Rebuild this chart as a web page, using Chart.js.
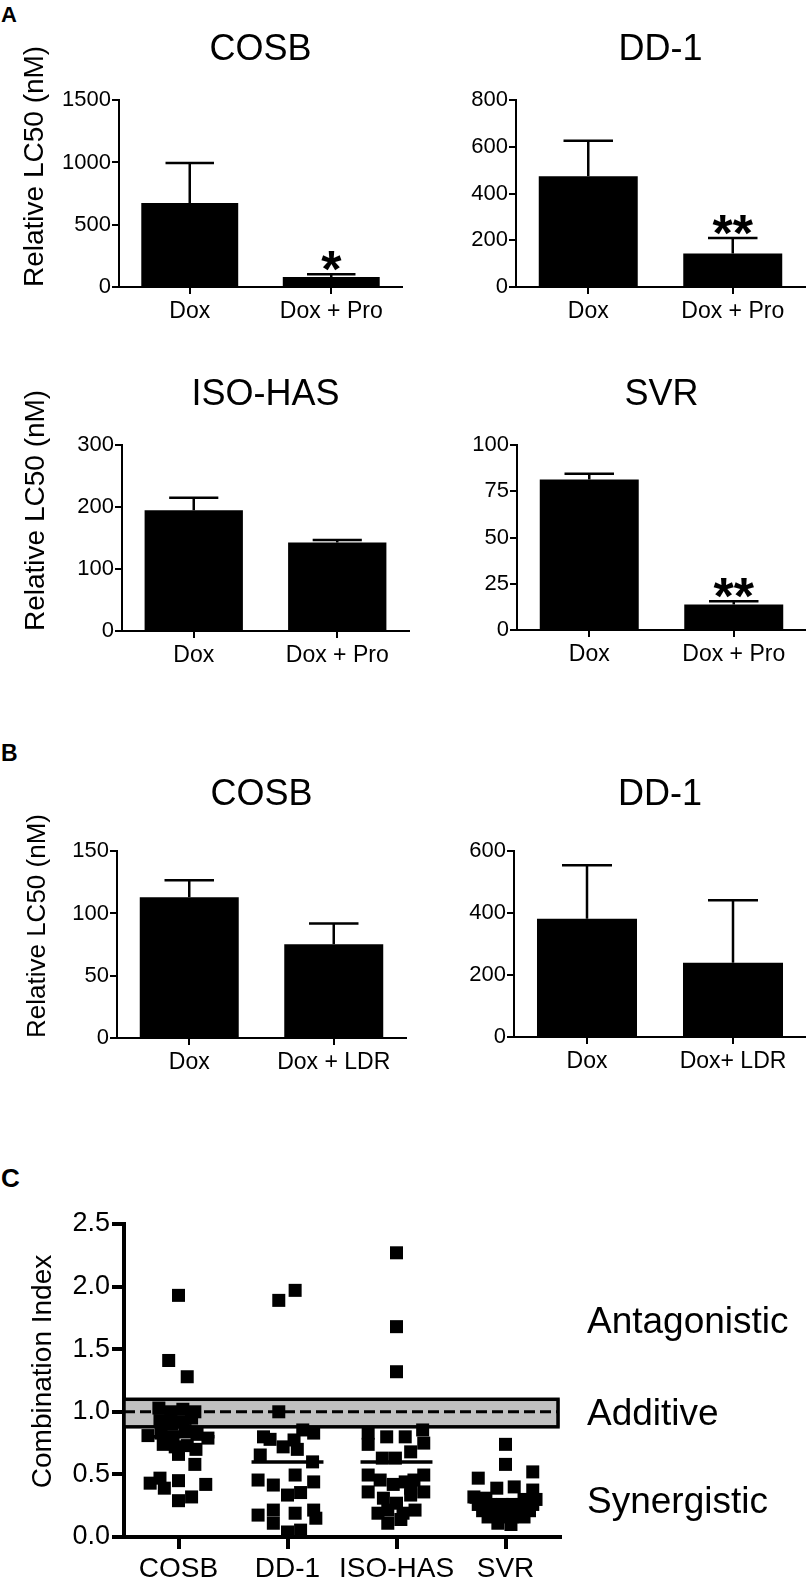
<!DOCTYPE html>
<html>
<head>
<meta charset="utf-8">
<script src="https://cdn.jsdelivr.net/npm/chart.js@4.4.1/dist/chart.umd.min.js"></script>
<style>
html,body{margin:0;padding:0;background:#fff;}
#page{position:relative;width:806px;height:1578px;overflow:hidden;font-family:'Liberation Sans',Arial,sans-serif;background:#fff;}
.box{position:absolute;}
.lbl{position:absolute;font-weight:bold;color:#000;line-height:1;}
</style>
</head>
<body>
<div id="page">
  <div class="lbl" style="left:1px;top:4px;font-size:22px">A</div>
  <div class="lbl" style="left:1px;top:742px;font-size:23px">B</div>
  <div class="lbl" style="left:1px;top:1165px;font-size:26px">C</div>

  <div class="box" style="left:0px;top:0px;width:403px;height:330px"><canvas id="a1"></canvas></div>
  <div class="box" style="left:403px;top:0px;width:403px;height:330px"><canvas id="a2"></canvas></div>
  <div class="box" style="left:0px;top:340px;width:410px;height:335px"><canvas id="a3"></canvas></div>
  <div class="box" style="left:403px;top:340px;width:403px;height:335px"><canvas id="a4"></canvas></div>
  <div class="box" style="left:0px;top:740px;width:410px;height:340px"><canvas id="b1"></canvas></div>
  <div class="box" style="left:403px;top:740px;width:403px;height:340px"><canvas id="b2"></canvas></div>
  <div class="box" style="left:0px;top:1140px;width:806px;height:438px"><canvas id="c1"></canvas></div>
</div>

<script>
// ---------------- DATA ----------------
// Panel A: relative LC50 (nM), mean and +SEM
const groupsPro = ['Dox', 'Dox + Pro'];
const cosbProMean = [675, 80];
const cosbProSem  = [321, 22];
const cosbProSig  = ['', '*'];
const dd1ProMean  = [474, 143];
const dd1ProSem   = [152, 67];
const dd1ProSig   = ['', '**'];
const isoProMean  = [195, 143];
const isoProSem   = [20, 4];
const isoProSig   = ['', ''];
const svrProMean  = [81.5, 13.8];
const svrProSem   = [3.1, 1.8];
const svrProSig   = ['', '**'];

// Panel B
const groupsLdrCosb = ['Dox', 'Dox + LDR'];
const groupsLdrDd1  = ['Dox', 'Dox+ LDR'];
const cosbLdrMean = [113, 75.3];
const cosbLdrSem  = [13.7, 16.6];
const dd1LdrMean  = [382, 240];
const dd1LdrSem   = [173, 202];

// y-axis tick ranges [max, step]
const cosbProAxis = [1500, 500];
const dd1ProAxis  = [800, 200];
const isoProAxis  = [300, 100];
const svrProAxis  = [100, 25];
const cosbLdrAxis = [150, 50];
const dd1LdrAxis  = [600, 200];

// Panel C: combination index per cell line (value, horizontal spread in category units)
const cellLines = ['COSB', 'DD-1', 'ISO-HAS', 'SVR'];
const cosbCI  = [1.93, 1.41, 1.28, 1.03, 1.00, 1.02, 1.00, 0.93, 0.90, 0.92, 0.95, 0.81, 0.83, 0.80, 0.85, 0.82, 0.79, 0.74, 0.72, 0.73, 0.70, 0.66, 0.58, 0.43, 0.47, 0.39, 0.45, 0.29, 0.32, 0.42];
const cosbJit = [0, -0.09, 0.08, -0.18, -0.07, 0.04, 0.15, -0.17, -0.06, 0.04, 0.12, -0.28, -0.16, -0.05, 0.06, 0.17, 0.27, -0.14, -0.03, 0.08, 0.16, 0, 0.15, -0.26, -0.17, -0.13, 0, 0, 0.12, 0.25];
const dd1CI   = [1.97, 1.89, 1.00, 0.855, 0.83, 0.80, 0.78, 0.775, 0.72, 0.70, 0.655, 0.60, 0.495, 0.455, 0.44, 0.415, 0.355, 0.335, 0.215, 0.215, 0.19, 0.175, 0.15, 0.11, 0.055, 0.04];
const dd1Jit  = [0.07, -0.08, -0.08, 0.14, 0.24, -0.22, -0.16, 0.06, -0.04, 0.09, -0.25, 0.23, 0.07, -0.27, 0.24, -0.13, 0.12, 0, -0.13, 0.24, 0.07, -0.27, 0.26, -0.13, 0.12, 0];
const isoCI   = [2.27, 1.68, 1.32, 0.855, 0.83, 0.80, 0.80, 0.75, 0.74, 0.68, 0.63, 0.63, 0.495, 0.495, 0.455, 0.455, 0.44, 0.42, 0.39, 0.36, 0.36, 0.335, 0.31, 0.27, 0.215, 0.215, 0.19, 0.19, 0.14, 0.11];
const isoJit  = [0, 0, 0, 0.24, -0.26, -0.09, 0.08, 0.25, -0.26, 0.13, -0.13, -0.01, -0.26, 0.25, -0.15, 0.16, 0.08, -0.03, 0.13, -0.26, 0.25, 0.13, -0.12, 0, -0.08, 0.17, -0.17, 0.06, 0.04, -0.08];
const svrCI   = [0.74, 0.58, 0.52, 0.47, 0.40, 0.39, 0.375, 0.32, 0.31, 0.30, 0.30, 0.26, 0.26, 0.26, 0.26, 0.26, 0.26, 0.21, 0.21, 0.21, 0.21, 0.21, 0.16, 0.16, 0.16, 0.16, 0.11, 0.10];
const svrJit  = [0, 0, 0.25, -0.25, 0.08, -0.08, 0.25, -0.29, -0.18, 0.17, 0.28, -0.25, -0.14, -0.03, 0.06, 0.15, 0.25, -0.21, -0.10, 0.01, 0.12, 0.22, -0.16, -0.05, 0.06, 0.17, -0.07, 0.05];
const meanCI  = [0.80, 0.60, 0.60, 0.28];
const additiveBand = [0.88, 1.10];
const additiveLine = 1.0;
const ciAxis = [2.5, 0.5];
const zoneLabels = ['Antagonistic', 'Additive', 'Synergistic'];
const zoneLabelCI = [1.71, 0.98, 0.275];

// ---------------- RENDERING ----------------
const FONT = "'Liberation Sans', Arial, sans-serif";
Chart.defaults.font.family = FONT;
Chart.defaults.color = '#000';

const errorBarPlugin = {
  id: 'errBars',
  afterDatasetsDraw(chart, args, opts) {
    if (!opts.sem) return;
    const meta = chart.getDatasetMeta(0);
    const ys = chart.scales.y;
    const ctx = chart.ctx;
    ctx.save();
    ctx.strokeStyle = '#000';
    ctx.fillStyle = '#000';
    ctx.lineWidth = opts.lineWidth || 2.5;
    meta.data.forEach((bar, i) => {
      const v = chart.data.datasets[0].data[i];
      const top = ys.getPixelForValue(v + opts.sem[i]);
      const base = ys.getPixelForValue(v);
      const half = bar.width * 0.25;
      ctx.beginPath();
      ctx.moveTo(bar.x, base);
      ctx.lineTo(bar.x, top);
      ctx.moveTo(bar.x - half, top);
      ctx.lineTo(bar.x + half, top);
      ctx.stroke();
      if (opts.sig && opts.sig[i]) {
        ctx.font = 'bold ' + (opts.sigSize || 50) + 'px ' + FONT;
        ctx.textAlign = 'center';
        ctx.textBaseline = 'alphabetic';
        ctx.fillText(opts.sig[i], bar.x, top + (opts.sigOffset || 12));
      }
    });
    ctx.restore();
  }
};

const sideTitlePlugin = {
  id: 'sideTitle',
  afterDraw(chart, args, opts) {
    if (!opts.text) return;
    const ctx = chart.ctx;
    const ca = chart.chartArea;
    ctx.save();
    ctx.fillStyle = '#000';
    ctx.font = opts.size + 'px ' + FONT;
    ctx.textBaseline = 'middle';
    const anchorY = opts.align === 'start' ? ca.bottom : (ca.top + ca.bottom) / 2 + (opts.shift || 0);
    ctx.translate(opts.x, anchorY);
    ctx.rotate(-Math.PI / 2);
    ctx.textAlign = opts.align === 'start' ? 'left' : 'center';
    ctx.fillText(opts.text, 0, 0);
    ctx.restore();
  }
};

function barPanel(id, labels, mean, sem, sig, axis, title, g) {
  new Chart(document.getElementById(id), {
    type: 'bar',
    data: {
      labels: labels,
      datasets: [{
        data: mean,
        backgroundColor: '#000',
        borderWidth: 0,
        barPercentage: 0.685,
        categoryPercentage: 1
      }]
    },
    options: {
      responsive: true,
      maintainAspectRatio: false,
      animation: false,
      events: [],
      layout: { padding: { left: 0, right: g.padRight, top: 0, bottom: 0 } },
      plugins: {
        legend: { display: false },
        tooltip: { enabled: false },
        title: {
          display: true, text: title, fullSize: false, color: '#000',
          font: { family: FONT, size: 36, weight: 'normal', lineHeight: 1.2 },
          padding: { top: g.tTop, bottom: g.tBottom }
        },
        errBars: { sem: sem, sig: sig, lineWidth: 2.5, sigSize: 52, sigOffset: 13 },
        sideTitle: g.yTitle ? { text: 'Relative LC50 (nM)', size: g.yTitleSize, x: g.yTitleX, align: 'start' } : {}
      },
      scales: {
        x: {
          grid: { display: true, offset: false, drawOnChartArea: false, drawTicks: true, tickLength: 7, color: '#000', lineWidth: 2 },
          border: { display: true, color: '#000', width: 2 },
          ticks: { color: '#000', font: { family: FONT, size: 23 }, padding: 4, maxRotation: 0, autoSkip: false },
          afterFit(s) { s.height = g.xH; }
        },
        y: {
          min: 0, max: axis[0],
          grid: { display: true, drawOnChartArea: false, drawTicks: true, tickLength: 7, color: '#000', lineWidth: 2 },
          border: { display: true, color: '#000', width: 2 },
          ticks: { stepSize: axis[1], color: '#000', font: { family: FONT, size: 22 }, padding: 1,
            callback: (v) => String(v) },
          afterFit(s) { s.width = g.yW; }
        }
      }
    },
    plugins: [errorBarPlugin, sideTitlePlugin]
  });
}

barPanel('a1', groupsPro, cosbProMean, cosbProSem, cosbProSig, cosbProAxis, 'COSB',
  { padRight: 1, yW: 119, xH: 43, tTop: 28, tBottom: 29, yTitle: true, yTitleSize: 28, yTitleX: 35 });
barPanel('a2', groupsPro, dd1ProMean, dd1ProSem, dd1ProSig, dd1ProAxis, 'DD-1',
  { padRight: 1, yW: 113, xH: 43, tTop: 28, tBottom: 29, yTitle: false });
barPanel('a3', groupsPro, isoProMean, isoProSem, isoProSig, isoProAxis, 'ISO-HAS',
  { padRight: 1, yW: 122, xH: 44, tTop: 33, tBottom: 29, yTitle: true, yTitleSize: 28, yTitleX: 36 });
barPanel('a4', groupsPro, svrProMean, svrProSem, svrProSig, svrProAxis, 'SVR',
  { padRight: 0, yW: 114, xH: 45, tTop: 33, tBottom: 29, yTitle: false });
barPanel('b1', groupsLdrCosb, cosbLdrMean, cosbLdrSem, ['', ''], cosbLdrAxis, 'COSB',
  { padRight: 4, yW: 117, xH: 42, tTop: 33, tBottom: 35, yTitle: true, yTitleSize: 26, yTitleX: 38 });
barPanel('b2', groupsLdrDd1, dd1LdrMean, dd1LdrSem, ['', ''], dd1LdrAxis, 'DD-1',
  { padRight: 0, yW: 111, xH: 43, tTop: 33, tBottom: 35, yTitle: false });

// ---------- Panel C ----------
const bandPlugin = {
  id: 'ciBand',
  beforeDatasetsDraw(chart, args, opts) {
    const ys = chart.scales.y;
    const ca = chart.chartArea;
    const ctx = chart.ctx;
    const yTop = ys.getPixelForValue(opts.band[1]);
    const yBot = ys.getPixelForValue(opts.band[0]);
    const yMid = ys.getPixelForValue(opts.line);
    ctx.save();
    ctx.fillStyle = '#c0c0c0';
    ctx.fillRect(ca.left, yTop, ca.right - ca.left, yBot - yTop);
    ctx.strokeStyle = '#000';
    ctx.lineWidth = 3.5;
    ctx.strokeRect(ca.left, yTop, ca.right - ca.left - 2, yBot - yTop);
    ctx.lineWidth = 3;
    ctx.setLineDash([11, 5]);
    ctx.beginPath();
    ctx.moveTo(ca.left, yMid);
    ctx.lineTo(ca.right - 2, yMid);
    ctx.stroke();
    ctx.restore();
  },
  afterDraw(chart, args, opts) {
    const ys = chart.scales.y;
    const ca = chart.chartArea;
    const ctx = chart.ctx;
    ctx.save();
    ctx.fillStyle = '#000';
    ctx.font = '37px ' + FONT;
    ctx.textAlign = 'left';
    ctx.textBaseline = 'middle';
    opts.labels.forEach((t, i) => {
      ctx.fillText(t, ca.right + 27, ys.getPixelForValue(opts.labelY[i]));
    });
    ctx.restore();
  }
};

const ciSets = [cosbCI, dd1CI, isoCI, svrCI];
const jitSets = [cosbJit, dd1Jit, isoJit, svrJit];
const cDatasets = [];
ciSets.forEach((vals, k) => {
  cDatasets.push({
    data: vals.map((v, i) => ({ x: k + 1 + jitSets[k][i], y: v })),
    pointStyle: 'rect',
    pointRadius: 9.2,
    pointBackgroundColor: '#000',
    pointBorderWidth: 0,
    showLine: false,
    clip: false
  });
});
meanCI.forEach((m, k) => {
  cDatasets.push({
    data: [{ x: k + 1 - 0.33, y: m }, { x: k + 1 + 0.33, y: m }],
    showLine: true,
    borderColor: '#000',
    borderWidth: 3.5,
    pointRadius: 0,
    clip: false
  });
});

new Chart(document.getElementById('c1'), {
  type: 'scatter',
  data: { datasets: cDatasets },
  options: {
    responsive: true,
    maintainAspectRatio: false,
    animation: false,
    events: [],
    layout: { padding: { left: 0, right: 246, top: 84, bottom: 0 } },
    plugins: {
      legend: { display: false },
      tooltip: { enabled: false },
      ciBand: { band: additiveBand, line: additiveLine, labels: zoneLabels, labelY: zoneLabelCI },
      sideTitle: { text: 'Combination Index', size: 28, x: 43, align: 'center', shift: -9 }
    },
    scales: {
      x: {
        type: 'linear', min: 0.5, max: cellLines.length + 0.5,
        afterBuildTicks(s) { s.ticks = cellLines.map((_, i) => ({ value: i + 1 })); },
        grid: { display: true, drawOnChartArea: false, drawTicks: true, tickLength: 12, color: '#000', lineWidth: 4 },
        border: { display: true, color: '#000', width: 4 },
        ticks: { color: '#000', font: { family: FONT, size: 28 }, padding: 3, maxRotation: 0, autoSkip: false,
          callback: (v) => cellLines[Math.round(v) - 1] },
        afterFit(s) { s.height = 41; }
      },
      y: {
        min: 0, max: ciAxis[0],
        grid: { display: true, drawOnChartArea: false, drawTicks: true, tickLength: 12, color: '#000', lineWidth: 4 },
        border: { display: true, color: '#000', width: 4 },
        ticks: { stepSize: ciAxis[1], color: '#000', font: { family: FONT, size: 27 }, padding: 2,
          callback: (v) => Number(v).toFixed(1) },
        afterFit(s) { s.width = 124; }
      }
    }
  },
  plugins: [bandPlugin, sideTitlePlugin]
});
</script>
</body>
</html>
